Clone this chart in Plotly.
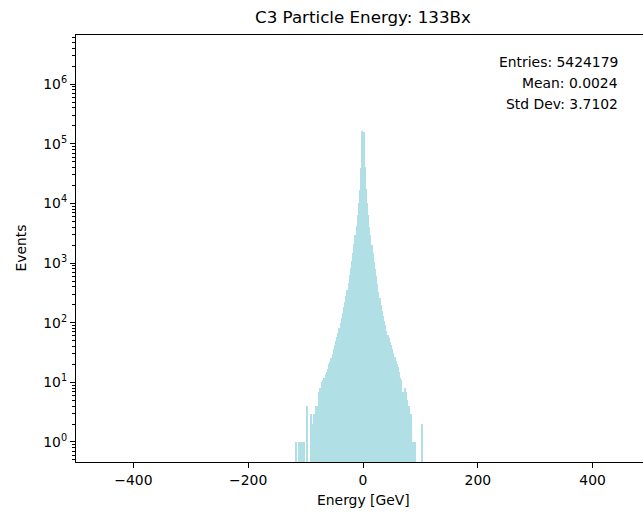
import plotly.graph_objects as go

# ---- data ----
bin_width = 2.0
bin_centers = list(range(-117, 107, 2))
counts = [
    # -117 .. -81
    1, 0, 0, 1, 1, 1, 1, 1, 0, 0, 4, 0, 0, 3, 2, 2, 3, 2, 4,
    # -79 .. -41
    4, 7, 8, 8, 10, 11, 12, 14, 15, 17, 20, 22, 26, 30, 36, 42, 49, 58, 68, 82,
    # -39 .. -1
    100, 122, 145, 180, 225, 285, 360, 470, 620, 820, 1100, 1500, 2050, 2900,
    4200, 6500, 10000, 17000, 40000, 165000,
    # 1 .. 39
    160000, 41000, 17500, 10000, 6300, 4100, 2900, 2000, 1450, 1050, 780, 600,
    450, 330, 260, 200, 160, 130, 108, 90,
    # 41 .. 79
    74, 63, 55, 48, 42, 36, 31, 27, 23, 20, 18, 15, 12, 11, 7, 3, 8, 7, 5, 4,
    # 81 .. 105
    4, 3, 1, 1, 1, 1, 0, 0, 0, 0, 0, 2, 0,
]
title_text = "C3 Particle Energy: 133Bx"
x_label = "Energy [GeV]"
y_label = "Events"
stats_lines = ["Entries: 5424179", "Mean: 0.0024", "Std Dev: 3.7102"]
x_tick_vals = [-400, -200, 0, 200, 400]
y_tick_exps = [0, 1, 2, 3, 4, 5, 6]

# ---- figure ----
W, H = 643, 514
L_M, R_M, T_M, B_M = 76, 0, 35, 52
FONT = "DejaVu Sans"

yvals = [c if c > 0 else None for c in counts]

fig = go.Figure()
fig.add_trace(go.Bar(
    x=bin_centers, y=yvals, width=bin_width,
    marker=dict(color="powderblue", line=dict(width=0)),
    showlegend=False, hoverinfo="x+y",
))

minor_vals = []
for k in range(-1, 8):
    for m in range(2, 10):
        minor_vals.append(m * 10 ** k)

fig.update_layout(
    width=W, height=H,
    margin=dict(l=L_M, r=R_M, t=T_M, b=B_M, pad=0),
    paper_bgcolor="white", plot_bgcolor="white",
    font=dict(family=FONT, size=13.9, color="black"),
    bargap=0,
    showlegend=False,
)
fig.update_xaxes(
    range=[-500, -500 + (W - L_M - R_M) / 0.574],
    tickmode="array", tickvals=x_tick_vals,
    ticktext=[("\u2212" + str(-v)) if v < 0 else str(v) for v in x_tick_vals],
    ticks="outside", ticklen=5, tickwidth=1.1, tickcolor="black",
    showline=True, linecolor="black", linewidth=1.1, mirror=True,
    showgrid=False, zeroline=False,
    tickfont=dict(family=FONT, size=13.9, color="black"),
)
fig.update_yaxes(
    type="log", range=[-0.3356, 6.8238],
    tickmode="array", tickvals=[10 ** e for e in y_tick_exps],
    ticktext=["10<sup>%d</sup>" % e for e in y_tick_exps],
    ticks="outside", ticklen=5, tickwidth=1.1, tickcolor="black",
    minor=dict(tickmode="array", tickvals=minor_vals, ticks="outside",
               ticklen=2.8, tickwidth=0.8, tickcolor="black", showgrid=False),
    showline=True, linecolor="black", linewidth=1.1, mirror=False,
    showgrid=False, zeroline=False,
    tickfont=dict(family=FONT, size=13.9, color="black"),
)

# title
fig.add_annotation(text=title_text, xref="x", yref="paper", x=0, y=1,
                   yshift=18, showarrow=False, xanchor="center", yanchor="middle",
                   font=dict(family=FONT, size=16.7, color="black"))
# axis labels
fig.add_annotation(text=x_label, xref="x", yref="paper", x=0, y=0,
                   yshift=-38, showarrow=False, xanchor="center", yanchor="middle",
                   font=dict(family=FONT, size=13.9, color="black"))
fig.add_annotation(text=y_label, xref="paper", yref="paper", x=0, y=0.5,
                   xshift=-56, showarrow=False, textangle=-90,
                   xanchor="center", yanchor="middle",
                   font=dict(family=FONT, size=13.9, color="black"))
# stats box
for i, line in enumerate(stats_lines):
    fig.add_annotation(text=line, xref="paper", yref="paper",
                       x=(620 - L_M) / (W - L_M - R_M), y=1,
                       yshift=-(27 + 21 * i), showarrow=False,
                       xanchor="right", yanchor="middle",
                       font=dict(family=FONT, size=13.9, color="black"))

fig.write_html("out.html")
